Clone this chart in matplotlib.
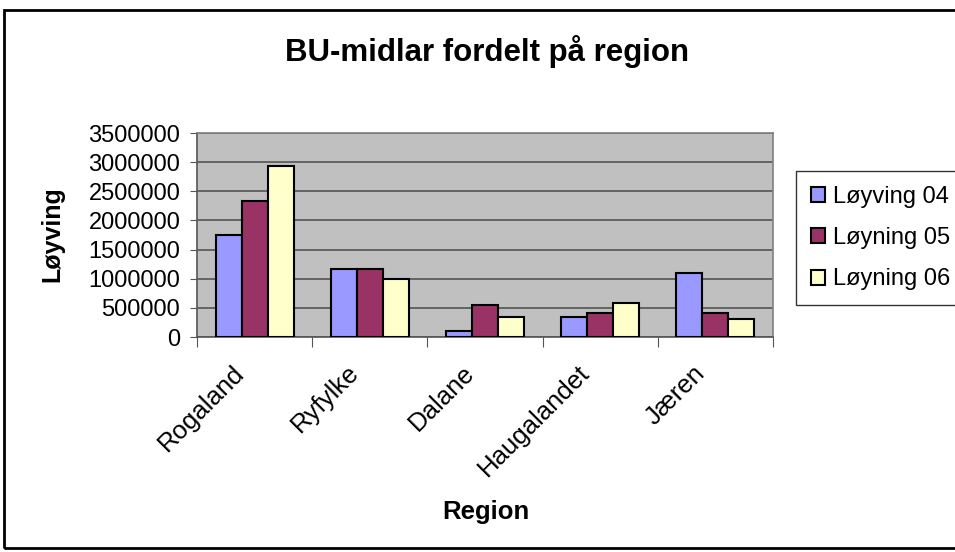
import matplotlib.pyplot as plt
import matplotlib.patches as patches
import numpy as np

plt.rcParams['font.family'] = ['Liberation Sans', 'DejaVu Sans']

regions = ["Rogaland", "Ryfylke", "Dalane", "Haugalandet", "Jæren"]
series_names = ["Løyving 04", "Løyning 05", "Løyning 06"]
loyving_04 = [1750000, 1170000, 100000, 340000, 1100000]
loyning_05 = [2340000, 1170000, 550000, 410000, 410000]
loyning_06 = [2930000, 990000, 340000, 580000, 310000]
colors = ["#9999FF", "#993366", "#FFFFCC"]
yticks = [0, 500000, 1000000, 1500000, 2000000, 2500000, 3000000, 3500000]

fig = plt.figure(figsize=(9.55, 5.52), dpi=100)
ax = fig.add_axes([197 / 955, 1 - 337 / 552, 576 / 955, 204 / 552])
ax.set_facecolor("#C0C0C0")

x = np.arange(len(regions))
w = 0.226
for i, (vals, name) in enumerate(zip([loyving_04, loyning_05, loyning_06], series_names)):
    ax.bar(x + (i - 1) * w, vals, width=w, color=colors[i], edgecolor="black",
           linewidth=1.5, label=name, zorder=3)

ax.set_xlim(-0.5, len(regions) - 0.5)
ax.set_ylim(0, 3500000)
ax.set_yticks(yticks)
ax.set_yticklabels([str(v) for v in yticks], fontsize=17)
ax.yaxis.grid(True, color="#555555", linewidth=1.2, zorder=1)

# category ticks sit between groups; rotated labels end just left of the group centre
ax.set_xticks(np.arange(len(regions) + 1) - 0.5)
ax.set_xticklabels([])
ax.set_xticks(x - 0.2, minor=True)
ax.set_xticklabels(regions, minor=True, rotation=45, ha="right", va="top",
                   rotation_mode="anchor", fontsize=18.5)
ax.tick_params(axis="x", which="minor", length=0, pad=17)
ax.tick_params(axis="x", which="major", length=7, color="#555555", direction="out")
ax.tick_params(axis="y", length=5, color="#555555", direction="out", pad=7)

for s in ["left", "bottom"]:
    ax.spines[s].set_color("#555555")
    ax.spines[s].set_linewidth(1.2)
for s in ["top", "right"]:
    ax.spines[s].set_color("#808080")
    ax.spines[s].set_linewidth(1.2)

fig.text(487 / 955, 1 - 52 / 552, "BU-midlar fordelt på region", fontsize=22.5,
         fontweight="bold", ha="center", va="center")
fig.text(52 / 955, 1 - 234 / 552, "Løyving", fontsize=18, fontweight="bold",
         rotation=90, ha="center", va="center")
fig.text(486 / 955, 1 - 512 / 552, "Region", fontsize=18.5, fontweight="bold",
         ha="center", va="center")

leg = fig.legend(loc="upper left", bbox_to_anchor=(796 / 955, 1 - 171 / 552),
                 fontsize=17, frameon=True, fancybox=False, edgecolor="black",
                 handlelength=0.6, handleheight=0.6, handletextpad=0.35,
                 labelspacing=0.82, borderpad=0.62, borderaxespad=0)
leg.get_frame().set_linewidth(1.0)

# outer chart frame, cut off at the right edge like the original
fig.patches.append(patches.Rectangle((4 / 955, 4 / 552), 1.0, 1 - 14 / 552,
                                     transform=fig.transFigure, fill=False,
                                     edgecolor="black", linewidth=2))

fig.savefig("out.png", dpi=100)
